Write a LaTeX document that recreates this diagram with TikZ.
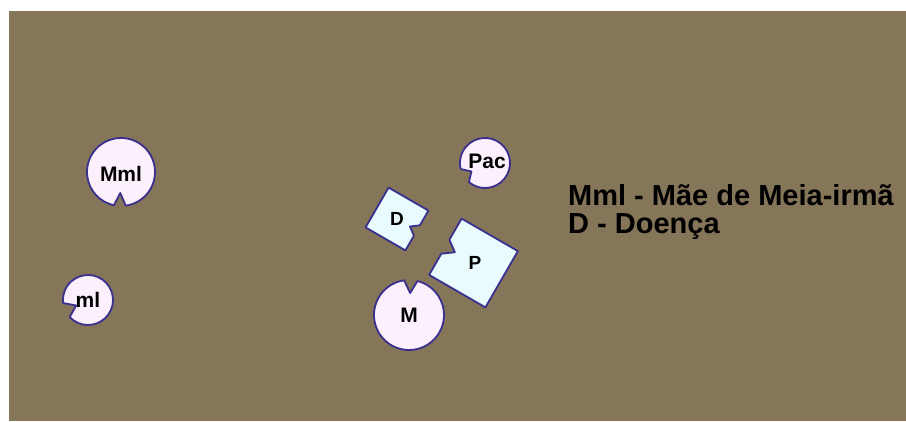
\documentclass[tikz,border=0pt]{standalone}
\usepackage{fontspec}
\setmainfont{Liberation Sans}
\usetikzlibrary{calc}
\definecolor{ground}{RGB}{133,117,89}
\definecolor{rim}{RGB}{58,48,142}
\definecolor{pinkfill}{RGB}{253,240,253}
\definecolor{cyanfill}{RGB}{234,251,253}
\begin{document}
\begin{tikzpicture}[x=1pt, y=1pt,
    person/.style={draw=rim, fill=pinkfill, line width=1.8pt, line join=round},
    thing/.style={draw=rim, fill=cyanfill, line width=1.8pt, line join=round},
    lbl/.style={font=\fontsize{21}{21}\selectfont\bfseries, inner sep=0pt},
    sqlbl/.style={font=\fontsize{19}{19}\selectfont\bfseries, inner sep=0pt},
    legend/.style={font=\fontsize{29}{29}\selectfont\bfseries, inner sep=0pt}]
  \useasboundingbox (0,0) rectangle (906,421);
  \fill[white] (0,0) rectangle (906,421);
  \fill[ground] (9,0) rectangle (906,410);
  \coordinate (cmml) at (121,249);
  \coordinate (cml) at (88,121);
  \coordinate (cpac) at (485,258);
  \coordinate (cm) at (409,106);
  \draw[person] (cmml) ++(-82:34) arc[start angle=-82, end angle=258, radius=34] -- ($(cmml)+(-92:21)$) -- cycle;
  \draw[person] (cml) ++(223:25) arc[start angle=223, end angle=547, radius=25] -- ($(cml)+(205:13)$) -- cycle;
  \draw[person] (cpac) ++(230:25) arc[start angle=230, end angle=554, radius=25] -- ($(cpac)+(212:16)$) -- cycle;
  \draw[person] (cm) ++(98:35) arc[start angle=98, end angle=436, radius=35] -- ($(cm)+(87:22)$) -- cycle;
  \node[lbl] (mml) at ($(cmml)+(0,-2)$) {Mml};
  \node[lbl] (ml) at (cml) {ml};
  \node[lbl] (pac) at ($(cpac)+(2,2)$) {Pac};
  \node[lbl] (m) at (cm) {M};
  \begin{scope}[shift={(397,202)}, rotate=-30]
    \draw[thing] (-23,-23) -- (23,-23) -- (23,-6) -- (15,0) -- (23,6) -- (23,23) -- (-23,23) -- cycle;
  \end{scope}
  \begin{scope}[shift={(473.5,158)}, rotate=-30]
    \draw[thing] (-32.5,-32.5) -- (32.5,-32.5) -- (32.5,32.5) -- (-32.5,32.5) -- (-32.5,8) -- (-21.5,0) -- (-32.5,-8) -- cycle;
  \end{scope}
  \node[sqlbl] (d) at (397,202) {D};
  \node[sqlbl] (p) at (475,158) {P};
  \node[legend, anchor=base west] (keymml) at (568,215) {Mml - Mãe de Meia-irmã};
  \node[legend, anchor=base west] (keyd) at (568,187) {D - Doença};
\end{tikzpicture}
\end{document}
